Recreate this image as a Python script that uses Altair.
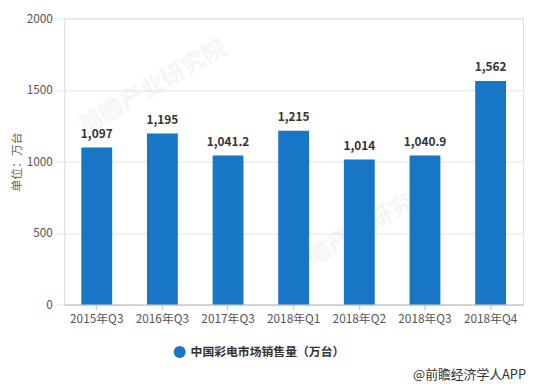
import altair as alt
import pandas as pd

categories = ["2015年Q3", "2016年Q3", "2017年Q3", "2018年Q1", "2018年Q2", "2018年Q3", "2018年Q4"]
values = [1097, 1195, 1041.2, 1215, 1014, 1040.9, 1562]
series_name = "中国彩电市场销售量（万台）"
y_ticks = [0, 500, 1000, 1500, 2000]

df = pd.DataFrame({"cat": categories, "val": values, "series": [series_name] * len(categories)})

FONT = "Noto Sans CJK SC"

base = alt.Chart(df).encode(
    x=alt.X("cat:N", sort=categories, title=None,
            scale=alt.Scale(paddingInner=0.53, paddingOuter=0.26),
            axis=alt.Axis(labelAngle=0, labelColor="#555555", labelFontSize=12, labelFont=FONT,
                          domainColor="#bbbbbb", tickColor="#bbbbbb", tickSize=5, labelPadding=4)),
)

bars = base.mark_bar(color="#1777c6").encode(
    y=alt.Y("val:Q", title="单位：万台", scale=alt.Scale(domain=[0, 2000]),
            axis=alt.Axis(values=y_ticks, format="d", grid=True, gridColor="#e3e3e3", domain=False,
                          tickColor="#e3e3e3", tickSize=8, labelColor="#555555", labelFontSize=12,
                          labelFont=FONT, labelPadding=4, titleColor="#666666", titleFontSize=12,
                          titleFont=FONT, titleFontWeight="normal", titlePadding=3)),
    color=alt.Color("series:N", scale=alt.Scale(range=["#1777c6"]),
                    legend=alt.Legend(title=None, orient="none", legendX=110, legendY=331,
                                      symbolType="circle", symbolSize=150, labelFontSize=12,
                                      labelFont=FONT, labelColor="#333333", labelFontWeight="bold")),
)

labels = base.mark_text(dy=-7, baseline="bottom", fontWeight="bold", fontSize=12,
                        color="#333333", font=FONT).encode(
    y="val:Q",
    text=alt.Text("val:Q", format=","),
)

wm_df = pd.DataFrame({"t": ["前瞻产业研究院", "前瞻产业研究院"], "x": [90, 300], "y": [70, 215]})
watermark = alt.Chart(wm_df).mark_text(angle=330, fontSize=24, color="#d5dbe3", opacity=0.25,
                                        font=FONT, fontWeight="bold").encode(
    x=alt.X("x:Q", scale=None), y=alt.Y("y:Q", scale=None), text="t:N")

footer = alt.Chart(pd.DataFrame({"t": ["@前瞻经济学人APP"]})).mark_text(
    align="right", baseline="middle", fontSize=13, color="#333333", font=FONT).encode(
    x=alt.value(468), y=alt.value(361), text="t:N")

chart = alt.layer(watermark, bars, labels, footer).properties(
    width=465, height=290,
    autosize=alt.AutoSizeParams(type="none"),
    padding={"left": 57, "top": 8, "right": 8, "bottom": 80},
).configure_view(stroke=None).configure(background="white")

chart.save("out.html", embed_options={"renderer": "svg", "actions": False})
